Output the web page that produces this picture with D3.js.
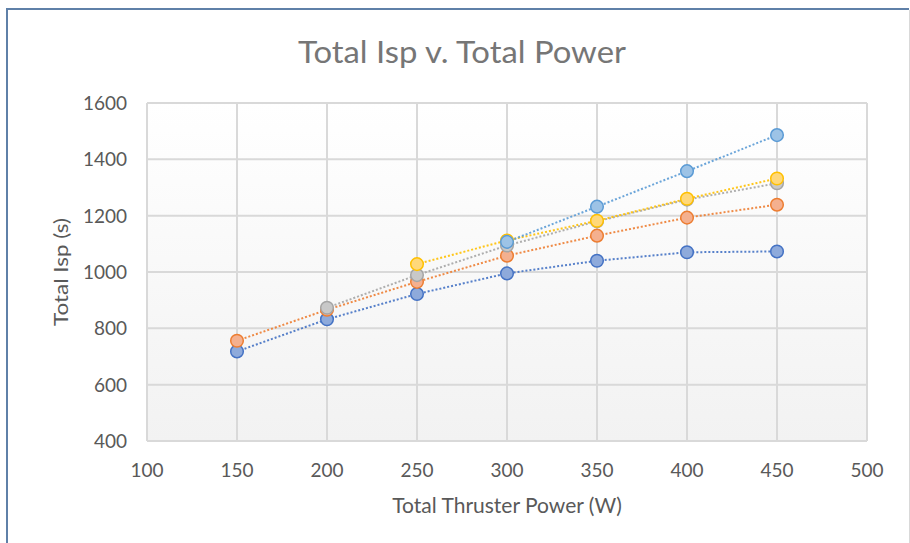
<!DOCTYPE html>
<html>
<head>
<meta charset="utf-8">
<script src="https://cdn.jsdelivr.net/npm/d3@7"></script>
<style>
  body { margin: 0; background: #fff; }
  svg text { font-family: Lato, "Open Sans", sans-serif; }
</style>
</head>
<body>
<div id="chart"></div>
<script>
// x values (W)
const powers = [150, 200, 250, 300, 350, 400, 450];

// Isp values per series, null where no point
const seriesDarkBlue = [718, 832, 922, 995, 1040, 1070, 1073];
const seriesOrange = [756, 866, 965, 1058, 1129, 1193, 1239];
const seriesGray = [null, 873, 989, 1094, 1180, 1257, 1315];
const seriesYellow = [null, null, 1028, 1112, 1182, 1260, 1332];
const seriesLightBlue = [null, null, null, 1107, 1232, 1358, 1486];

const xTicks = [100, 150, 200, 250, 300, 350, 400, 450, 500];
const yTicks = [400, 600, 800, 1000, 1200, 1400, 1600];

const series = [
    { values: seriesDarkBlue, stroke: "#4472c4", fill: "#8eaadb" },
    { values: seriesOrange, stroke: "#ed7d31", fill: "#f4b08f" },
    { values: seriesGray, stroke: "#a5a5a5", fill: "#c8c8c8" },
    { values: seriesYellow, stroke: "#ffc000", fill: "#ffd87a" },
    { values: seriesLightBlue, stroke: "#5b9bd5", fill: "#9dc3e6" }
];

const width = 910, height = 543;
const margin = { left: 147, right: 43, top: 103, bottom: 102 };

const svg = d3.select("#chart").append("svg")
    .attr("width", width)
    .attr("height", height);

// chart frame
svg.append("line").attr("x1", 909.5).attr("x2", 909.5).attr("y1", 10).attr("y2", height)
    .attr("stroke", "#d9d9d9").attr("stroke-width", 1);
svg.append("line").attr("x1", 6).attr("x2", 909).attr("y1", 9).attr("y2", 9)
    .attr("stroke", "#5f80a8").attr("stroke-width", 2);
svg.append("line").attr("x1", 7).attr("x2", 7).attr("y1", 8).attr("y2", height)
    .attr("stroke", "#5f80a8").attr("stroke-width", 2);

const x = d3.scaleLinear().domain([100, 500]).range([margin.left, width - margin.right]);
const y = d3.scaleLinear().domain([400, 1600]).range([height - margin.bottom, margin.top]);

// plot background gradient
const grad = svg.append("defs").append("linearGradient")
    .attr("id", "bg").attr("x1", 0).attr("x2", 0).attr("y1", 0).attr("y2", 1);
grad.append("stop").attr("offset", "0%").attr("stop-color", "#ffffff");
grad.append("stop").attr("offset", "100%").attr("stop-color", "#f2f2f2");

svg.append("rect")
    .attr("x", x(100)).attr("y", y(1600))
    .attr("width", x(500) - x(100)).attr("height", y(400) - y(1600))
    .attr("fill", "url(#bg)");

// grid
svg.append("g").selectAll("line").data(xTicks).join("line")
    .attr("x1", d => x(d)).attr("x2", d => x(d))
    .attr("y1", y(1600)).attr("y2", y(400))
    .attr("stroke", "#d9d9d9").attr("stroke-width", 2);
svg.append("g").selectAll("line").data(yTicks).join("line")
    .attr("x1", x(100)).attr("x2", x(500))
    .attr("y1", d => y(d)).attr("y2", d => y(d))
    .attr("stroke", "#d9d9d9").attr("stroke-width", 2);

// tick labels
svg.append("g").selectAll("text").data(xTicks).join("text")
    .attr("x", d => x(d)).attr("y", y(400) + 36)
    .attr("text-anchor", "middle")
    .attr("font-size", 19).attr("fill", "#595959")
    .text(d => d);
svg.append("g").selectAll("text").data(yTicks).join("text")
    .attr("x", x(100) - 20).attr("y", d => y(d) + 7)
    .attr("text-anchor", "end")
    .attr("font-size", 19).attr("fill", "#595959")
    .text(d => d);

// titles
svg.append("text")
    .attr("x", 462).attr("y", 63)
    .attr("text-anchor", "middle")
    .attr("font-size", 30).attr("fill", "#767676")
    .attr("textLength", 328).attr("lengthAdjust", "spacingAndGlyphs")
    .text("Total Isp v. Total Power");

svg.append("text")
    .attr("x", 507).attr("y", 513)
    .attr("text-anchor", "middle")
    .attr("font-size", 21).attr("fill", "#595959")
    .text("Total Thruster Power (W)");

svg.append("text")
    .attr("transform", `translate(68,${(y(400) + y(1600)) / 2}) rotate(-90)`)
    .attr("text-anchor", "middle")
    .attr("font-size", 20).attr("fill", "#595959")
    .attr("textLength", 108).attr("lengthAdjust", "spacingAndGlyphs")
    .text("Total Isp (s)");

// series
const line = d3.line()
    .defined(d => d.v != null)
    .x(d => x(d.p))
    .y(d => y(d.v));

series.forEach(s => {
    const pts = powers.map((p, i) => ({ p, v: s.values[i] }));
    const g = svg.append("g");
    g.append("path")
        .datum(pts)
        .attr("d", line)
        .attr("fill", "none")
        .attr("stroke", s.stroke)
        .attr("stroke-width", 2)
        .attr("stroke-dasharray", "2,2")
        .attr("opacity", 0.9);
    g.selectAll("circle").data(pts.filter(d => d.v != null)).join("circle")
        .attr("cx", d => x(d.p))
        .attr("cy", d => y(d.v))
        .attr("r", 6.3)
        .attr("fill", s.fill)
        .attr("stroke", s.stroke)
        .attr("stroke-width", 1.5);
});
</script>
</body>
</html>
